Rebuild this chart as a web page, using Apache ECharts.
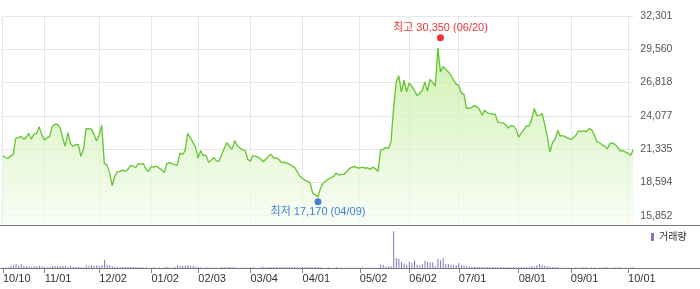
<!DOCTYPE html>
<html><head><meta charset="utf-8">
<script src="https://cdn.jsdelivr.net/npm/echarts@6/dist/echarts.min.js"></script>
<style>html,body{margin:0;padding:0;background:#fff}#c{width:700px;height:289px}</style>
</head><body><div id="c"></div>
<script>
// Trading days (KRX), 2024-10-10 .. 2025-10-10
const tradingDays = [
  ['2024-10', [10,11,14,15,16,17,18,21,22,23,24,25,28,29,30,31]],
  ['2024-11', [1,4,5,6,7,8,11,12,13,14,15,18,19,20,21,22,25,26,27,28,29]],
  ['2024-12', [2,3,4,5,6,9,10,11,12,13,16,17,18,19,20,23,24,26,27,30]],
  ['2025-01', [2,3,6,7,8,9,10,13,14,15,16,17,20,21,22,23,24,31]],
  ['2025-02', [3,4,5,6,7,10,11,12,13,14,17,18,19,20,21,24,25,26,27,28]],
  ['2025-03', [4,5,6,7,10,11,12,13,14,17,18,19,20,21,24,25,26,27,28,31]],
  ['2025-04', [1,2,3,4,7,8,9,10,11,14,15,16,17,18,21,22,23,24,25,28,29,30]],
  ['2025-05', [2,7,8,9,12,13,14,15,16,19,20,21,22,23,26,27,28,29,30]],
  ['2025-06', [2,4,5,9,10,11,12,13,16,17,18,19,20,23,24,25,26,27,30]],
  ['2025-07', [1,2,3,4,7,8,9,10,11,14,15,16,17,18,21,22,23,24,25,28,29,30,31]],
  ['2025-08', [1,4,5,6,7,8,11,12,13,14,18,19,20,21,22,25,26,27,28,29]],
  ['2025-09', [1,2,3,4,5,8,9,10,11,12,15,16,17,18,19,22,23,24,25,26,29,30]],
  ['2025-10', [1,2,10]]
];

// Closing prices (KRW), one per trading day
const closePrices = [
  20790,20640,20600,20760,20890,22220,22280,22380,22160,22280,22630,22160,22570,22640,23170,22530,
  22080,22280,22370,23200,23390,23380,23110,22280,21560,22690,21800,21560,21730,21710,20740,21320,23020,23020,22980,22570,22030,
  22490,23290,20160,20020,19400,18320,19090,19490,19490,19610,19490,19660,19980,19960,19800,20150,20100,20150,19650,19490,
  19910,19850,19940,19780,19610,19400,20160,20230,20150,20060,20020,21010,20890,21210,22630,22300,21870,21500,
  20600,21210,20800,20840,20250,20430,20640,20370,20330,20870,21390,21870,21570,21320,22040,21620,21440,21290,21260,20520,
  20330,20810,20740,20680,20500,20300,20520,20740,20910,20600,20620,20480,20230,20270,20190,20100,19940,19830,19490,19120,
  18930,18760,18680,18540,17690,17570,17420,18130,18540,18710,18870,18980,19090,19380,19200,19260,19280,19470,19730,19840,19910,19800,
  19780,19860,19780,19790,19670,19840,19740,19480,21230,21340,21460,21400,21910,24710,26850,27380,26050,27010,26050,
  26790,26500,26170,25740,25940,26170,26870,26110,27070,26830,26520,29660,27700,28140,27890,27700,27400,27040,26680,
  26600,25940,25860,24690,24690,24780,24920,24830,24590,24120,24550,24320,24250,24220,24220,23560,23520,23500,23350,23070,23270,23230,22980,
  22320,22650,22940,23250,23230,23800,24690,24090,24110,24280,23390,22320,21120,21870,22160,22880,22420,22450,22340,22240,
  22130,22280,22490,22850,22770,22830,22770,23020,22920,22530,21960,21860,21690,21580,21360,21790,21860,21690,21500,21170,21210,21090,
  20990,20840,21300
];

// Trading volume (relative units, estimated)
const volumes = [
  5,5,8,17,30,40,25,40,20,17,17,13,17,17,23,17,
  13,8,10,20,20,20,20,20,20,13,20,13,10,10,10,8,27,20,27,20,30,
  20,30,83,30,27,17,13,10,10,10,10,10,10,10,10,10,8,5,8,3,
  3,8,3,8,3,8,10,8,3,10,30,17,23,23,30,20,20,13,
  10,8,3,8,3,3,8,3,3,10,10,8,10,10,8,3,3,3,8,3,
  8,10,3,3,8,10,8,10,8,10,10,8,10,8,10,10,8,10,8,8,
  10,10,8,10,8,10,10,8,3,3,8,3,3,10,3,3,3,3,3,3,3,3,
  3,8,3,3,3,3,3,5,33,30,15,15,20,367,100,93,60,43,33,
  63,50,77,33,27,40,73,57,57,57,17,90,77,100,40,40,33,33,27,
  47,30,27,17,17,13,10,10,10,10,10,10,10,10,8,10,10,10,8,10,8,10,8,
  8,8,8,10,10,23,13,27,40,33,23,17,13,10,10,8,3,3,3,3,
  3,3,8,3,8,8,8,3,8,8,3,3,8,8,8,3,3,8,8,8,3,3,
  3,8,8
];

// Y-axis tick labels
const yTicks = [15852, 18594, 21335, 24077, 26818, 29560, 32301];

// High / low annotations
const extremeNames = ['최고', '최저'];
const extremeDates = ['2025-06-20', '2025-04-09'];
const extremeValues = [30350, 17170];

const categories = [];
tradingDays.forEach(([ym, ds]) => ds.forEach(d => categories.push(ym + '-' + String(d).padStart(2, '0'))));

const FONT = '"Liberation Sans", "Noto Sans CJK KR", Arial, sans-serif';
const mmdd = v => v.slice(5, 7) + '/' + v.slice(8, 10);
const monthStart = (i) => i === 0 || categories[i].slice(5, 7) !== categories[i - 1].slice(5, 7);

const extremeColors = ['#e60000', '#1560d0'];

const chart = echarts.init(document.getElementById('c'), null, {renderer: 'canvas'});
chart.setOption({
  animation: false,
  backgroundColor: '#fff',
  textStyle: {fontFamily: FONT},
  grid: [
    {left: 2.7, right: 66.7, top: 16, height: 209},
    {left: 2.7, right: 66.7, top: 226, height: 42}
  ],
  legend: {
    data: ['거래량'], left: 651, top: 232, padding: 0,
    itemWidth: 3, itemHeight: 8, icon: 'rect', selectedMode: false,
    textStyle: {fontSize: 10, color: '#333', fontFamily: FONT}
  },
  xAxis: [
    {
      type: 'category', gridIndex: 0, data: categories, boundaryGap: false,
      axisLine: {show: false}, axisTick: {show: false}, axisLabel: {show: false},
      splitLine: {show: true, interval: monthStart, lineStyle: {color: '#e6e6e6', width: 1}}
    },
    {
      type: 'category', gridIndex: 1, data: categories, boundaryGap: false,
      axisLine: {show: false},
      axisTick: {show: true, interval: monthStart, length: 5, lineStyle: {color: '#888'}},
      axisLabel: {interval: monthStart, align: 'left', margin: 5, fontSize: 11, color: '#333',
        fontFamily: FONT, formatter: mmdd},
      splitLine: {show: false}
    }
  ],
  yAxis: [
    {
      type: 'value', gridIndex: 0, position: 'right', min: 15087, max: 32301,
      axisLine: {show: false},
      axisTick: {show: false, customValues: yTicks},
      axisLabel: {customValues: yTicks, margin: 7, fontSize: 10.5, color: '#555', fontFamily: FONT,
        formatter: v => Math.round(v).toLocaleString('en-US')},
      splitLine: {show: true, lineStyle: {color: '#e6e6e6', width: 1}}
    },
    {type: 'value', gridIndex: 1, min: 0, max: 420, show: false, splitLine: {show: false}}
  ],
  graphic: [
    {type: 'line', shape: {x1: 0, y1: 225.5, x2: 700, y2: 225.5}, style: {stroke: '#777', lineWidth: 1}, z: 100},
    {type: 'line', shape: {x1: 0, y1: 268.5, x2: 700, y2: 268.5}, style: {stroke: '#777', lineWidth: 1}, z: 100}
  ],
  series: [
    {
      name: '종가', type: 'line', xAxisIndex: 0, yAxisIndex: 0, data: closePrices,
      symbol: 'none', smooth: false,
      lineStyle: {color: '#62c52f', width: 1.3},
      areaStyle: {
        origin: 'start',
        color: new echarts.graphic.LinearGradient(0, 0, 0, 1, [
          {offset: 0, color: '#bdec94'},
          {offset: 1, color: '#f7fdf2'}
        ])
      },
      z: 2
    },
    {
      name: 'extremes', type: 'scatter', xAxisIndex: 0, yAxisIndex: 0, symbolSize: 7, z: 5,
      data: extremeDates.map((d, k) => ({
        value: [d, extremeValues[k]],
        symbolOffset: [0, k ? 2 : -2],
        itemStyle: {color: extremeColors[k]},
        label: {
          show: true, position: k ? 'bottom' : 'top', distance: 1,
          color: extremeColors[k], fontSize: 11, fontFamily: FONT,
          formatter: () => extremeNames[k] + ' ' + extremeValues[k].toLocaleString('en-US') + ' (' + mmdd(d) + ')'
        }
      }))
    },
    {
      name: '거래량', type: 'bar', xAxisIndex: 1, yAxisIndex: 1, data: volumes,
      barWidth: 1, itemStyle: {color: '#8572cc'}
    }
  ]
});
</script>
</body></html>
